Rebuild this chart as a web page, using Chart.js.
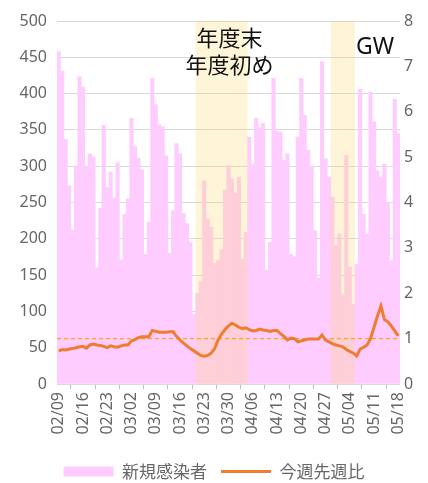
<!DOCTYPE html>
<html lang="ja">
<head>
<meta charset="utf-8">
<script src="https://cdn.jsdelivr.net/npm/chart.js@4.4.1/dist/chart.umd.min.js"></script>
<style>
  html, body { margin: 0; padding: 0; background: #fff; }
</style>
</head>
<body>
<canvas id="trendChart" width="428" height="483"></canvas>
<script>
const dates = [
  "02/09","02/10","02/11","02/12","02/13","02/14","02/15","02/16","02/17","02/18",
  "02/19","02/20","02/21","02/22","02/23","02/24","02/25","02/26","02/27","02/28",
  "03/01","03/02","03/03","03/04","03/05","03/06","03/07","03/08","03/09","03/10",
  "03/11","03/12","03/13","03/14","03/15","03/16","03/17","03/18","03/19","03/20",
  "03/21","03/22","03/23","03/24","03/25","03/26","03/27","03/28","03/29","03/30",
  "03/31","04/01","04/02","04/03","04/04","04/05","04/06","04/07","04/08","04/09",
  "04/10","04/11","04/12","04/13","04/14","04/15","04/16","04/17","04/18","04/19",
  "04/20","04/21","04/22","04/23","04/24","04/25","04/26","04/27","04/28","04/29",
  "04/30","05/01","05/02","05/03","05/04","05/05","05/06","05/07","05/08","05/09",
  "05/10","05/11","05/12","05/13","05/14","05/15","05/16","05/17","05/18"
];

const newCases = [
  458, 431, 337, 273, 212, 300, 423, 409, 300, 317,
  313, 160, 242, 356, 271, 292, 256, 305, 171, 234,
  255, 366, 327, 311, 295, 179, 223, 421, 385, 357,
  354, 314, 180, 239, 331, 317, 235, 221, 195, 96,
  125, 141, 280, 227, 216, 166, 170, 185, 267, 301,
  283, 263, 285, 172, 209, 340, 303, 366, 353, 359,
  157, 195, 421, 348, 347, 308, 317, 179, 175, 340,
  421, 370, 322, 300, 211, 146, 444, 310, 285, 257,
  191, 207, 124, 315, 161, 110, 165, 406, 234, 207,
  402, 361, 294, 285, 303, 250, 170, 392, 345
];

const weekRatio = [
  0.73, 0.76, 0.75, 0.77, 0.78, 0.80, 0.82, 0.83, 0.79, 0.86,
  0.88, 0.86, 0.85, 0.83, 0.80, 0.84, 0.82, 0.81, 0.84, 0.86,
  0.86, 0.95, 0.98, 1.02, 1.04, 1.04, 1.04, 1.18, 1.16, 1.14,
  1.14, 1.14, 1.15, 1.15, 1.05, 0.97, 0.90, 0.84, 0.78, 0.73,
  0.68, 0.63, 0.61, 0.63, 0.68, 0.78, 0.97, 1.10, 1.20, 1.28,
  1.34, 1.30, 1.25, 1.22, 1.24, 1.20, 1.17, 1.18, 1.21, 1.19,
  1.18, 1.16, 1.18, 1.18, 1.11, 1.05, 0.97, 1.01, 1.00, 0.93,
  0.95, 0.97, 0.99, 0.99, 0.99, 0.99, 1.08, 0.97, 0.93, 0.89,
  0.86, 0.84, 0.82, 0.76, 0.72, 0.68, 0.62, 0.77, 0.81, 0.86,
  1.00, 1.25, 1.50, 1.72, 1.42, 1.37, 1.28, 1.17, 1.06
];

const baseRatio = 1;

const periodStart = ["03/21", "04/29"];
const periodEnd = ["04/04", "05/05"];
const periodText = [["年度末", "年度初め"], ["GW"]];

const cjkFont = "'Noto Sans CJK JP', sans-serif";
const latinFont = "'Noto Sans', sans-serif";

const periodPlugin = {
  id: "periods",
  beforeDatasetDraw(chart, args) {
    // runs before the ratio line: shade periods over the bars, then the dashed 1.0 line
    if (args.index !== 1) return;
    const { ctx, chartArea, scales } = chart;
    const x = scales.x;
    const half = (x.getPixelForValue(1) - x.getPixelForValue(0)) / 2;
    ctx.save();
    ctx.fillStyle = "rgba(250, 215, 100, 0.25)";
    periodStart.forEach((start, i) => {
      const left = x.getPixelForValue(dates.indexOf(start)) - half;
      const right = x.getPixelForValue(dates.indexOf(periodEnd[i])) + half;
      ctx.fillRect(left, chartArea.top, right - left, chartArea.bottom - chartArea.top);
    });

    const y = scales.y1.getPixelForValue(baseRatio);
    ctx.strokeStyle = "#ffa31a";
    ctx.lineWidth = 1.2;
    ctx.setLineDash([4, 3]);
    ctx.beginPath();
    ctx.moveTo(chartArea.left, y);
    ctx.lineTo(chartArea.right, y);
    ctx.stroke();
    ctx.restore();
  },
  afterDraw(chart) {
    const { ctx, scales } = chart;
    const x = scales.x;
    const half = (x.getPixelForValue(1) - x.getPixelForValue(0)) / 2;
    ctx.save();
    ctx.fillStyle = "#111";
    ctx.textBaseline = "middle";

    const l0 = x.getPixelForValue(dates.indexOf(periodStart[0])) - half;
    const r0 = x.getPixelForValue(dates.indexOf(periodEnd[0])) + half;
    ctx.font = "22px " + cjkFont;
    ctx.textAlign = "center";
    ctx.fillText(periodText[0][0], (l0 + r0) / 2 + 8, 38);
    ctx.fillText(periodText[0][1], (l0 + r0) / 2 + 8, 65);

    const r1 = x.getPixelForValue(dates.indexOf(periodEnd[1])) + half;
    ctx.font = "23px " + latinFont;
    ctx.textAlign = "left";
    ctx.fillText(periodText[1][0], r1 + 1, 47);
    ctx.restore();
  }
};

new Chart(document.getElementById("trendChart"), {
  data: {
    labels: dates,
    datasets: [
      {
        type: "bar",
        label: "新規感染者",
        data: newCases,
        backgroundColor: "#ffccff",
        borderWidth: 0,
        barPercentage: 1,
        categoryPercentage: 1,
        pointStyle: "rect",
        yAxisID: "y",
        order: 1
      },
      {
        type: "line",
        label: "今週先週比",
        data: weekRatio,
        borderColor: "#ed7d31",
        backgroundColor: "#ed7d31",
        borderWidth: 3,
        pointRadius: 0,
        tension: 0,
        pointStyle: "line",
        yAxisID: "y1",
        order: 0
      }
    ]
  },
  options: {
    responsive: false,
    animation: false,
    layout: {
      padding: { top: 21, left: 0, right: 0, bottom: -7 }
    },
    plugins: {
      tooltip: { enabled: false },
      legend: {
        position: "bottom",
        labels: {
          usePointStyle: true,
          pointStyleWidth: 50,
          boxWidth: 50,
          boxHeight: 10,
          padding: 14,
          color: "#666",
          font: { size: 17, family: cjkFont },
          sort: (a, b) => a.datasetIndex - b.datasetIndex
        }
      }
    },
    scales: {
      x: {
        offset: true,
        grid: {
          offset: true,
          drawOnChartArea: false,
          drawTicks: true,
          tickLength: 5,
          color: "#bbb"
        },
        border: { display: false },
        ticks: {
          autoSkip: false,
          minRotation: 90,
          maxRotation: 90,
          padding: 3,
          color: "#666",
          font: { size: 16, family: latinFont },
          callback: function (value, index) {
            return index % 7 === 0 ? dates[index] : null;
          }
        },
        afterFit: scale => { scale.height = 65; }
      },
      y: {
        position: "left",
        min: 0,
        max: 500,
        ticks: {
          stepSize: 50,
          color: "#666",
          padding: 10,
          font: { size: 16, family: latinFont }
        },
        grid: { color: "#d9d9d9", drawTicks: false },
        border: { display: false },
        afterFit: scale => { scale.width = 57; }
      },
      y1: {
        position: "right",
        min: 0,
        max: 8,
        ticks: {
          stepSize: 1,
          color: "#666",
          padding: 4,
          font: { size: 16, family: latinFont }
        },
        grid: { drawOnChartArea: false, drawTicks: false },
        border: { display: false },
        afterFit: scale => { scale.width = 28; }
      }
    }
  },
  plugins: [periodPlugin]
});
</script>
</body>
</html>
